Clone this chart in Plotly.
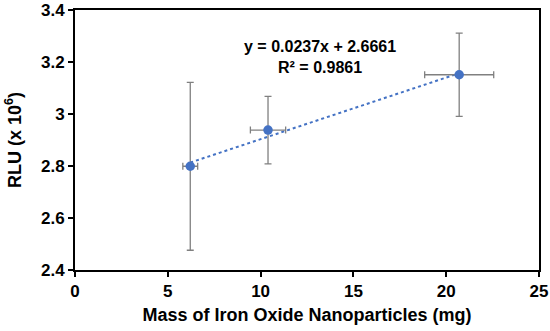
import plotly.graph_objects as go

mass = [6.21, 10.4, 20.7]
rlu = [2.799, 2.938, 3.151]
mass_err = [0.4, 0.95, 1.86]
rlu_err = [0.323, 0.13, 0.16]
slope = 0.0237
intercept = 2.6661
x_ticks = [0, 5, 10, 15, 20, 25]
y_ticks = [2.4, 2.6, 2.8, 3.0, 3.2, 3.4]
y_tick_labels = ["2.4", "2.6", "2.8", "3", "3.2", "3.4"]

blue = "#4472C4"
font = "Liberation Sans, Arial, sans-serif"

fig = go.Figure()
trend_x = [min(mass), max(mass)]
trend_y = [slope * v + intercept for v in trend_x]
fig.add_trace(go.Scatter(x=trend_x, y=trend_y, mode="lines",
                         line=dict(color=blue, width=2, dash="dot"),
                         showlegend=False, hoverinfo="skip"))
fig.add_trace(go.Scatter(
    x=mass, y=rlu, mode="markers",
    marker=dict(color=blue, size=9.5),
    error_y=dict(type="data", array=rlu_err, color="#808080", thickness=1.3, width=3.5),
    error_x=dict(type="data", array=mass_err, color="#808080", thickness=1.3, width=3.5),
    showlegend=False))

fig.add_annotation(x=13.2, y=3.221, xref="x", yref="y",
                   text="<b>y = 0.0237x + 2.6661<br>R² = 0.9861</b>",
                   showarrow=False, font=dict(family=font, size=16, color="black"),
                   align="center")

axis_common = dict(showline=True, linecolor="black", linewidth=2, mirror=True,
                   ticks="outside", ticklen=5, tickwidth=2, tickcolor="black",
                   showgrid=False, zeroline=False, automargin=False,
                   tickfont=dict(family=font, size=17, color="black"))
fig.update_xaxes(range=[0, 25], tickvals=x_ticks,
                 ticktext=[f"<b>{t}</b>" for t in x_ticks],
                 title=dict(text="<b>Mass of Iron Oxide Nanoparticles (mg)</b>",
                            font=dict(family=font, size=18, color="black"), standoff=8),
                 **axis_common)
fig.update_yaxes(range=[2.4, 3.4], tickvals=y_ticks, ticktext=[f"<b>{t}</b>" for t in y_tick_labels],
                 title=dict(text="<b>RLU (x 10<sup>6</sup>)</b>",
                            font=dict(family=font, size=18, color="black"), standoff=15),
                 **axis_common)

fig.update_layout(width=550, height=331, margin=dict(l=75, r=11, t=10, b=61),
                  plot_bgcolor="white", paper_bgcolor="white")
fig.write_html("out.html", config={"displayModeBar": False},
               post_script="document.body.style.margin='0';")
